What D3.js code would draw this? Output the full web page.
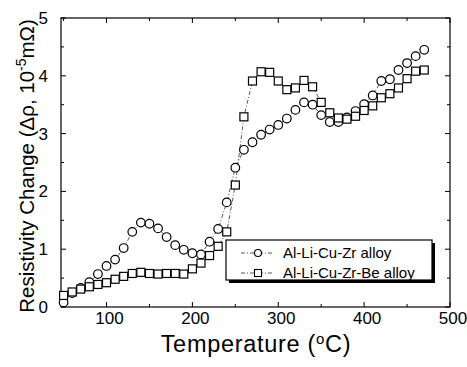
<!DOCTYPE html>
<html><head><meta charset="utf-8">
<script src="https://cdn.jsdelivr.net/npm/d3@7"></script>
<style>body{margin:0;background:#fff}svg{display:block}text{font-family:"Liberation Sans",Arial,sans-serif;fill:#000}</style>
</head><body><svg id="c" width="467" height="367"></svg>
<script>
const temps = [50,60,70,80,90,100,110,120,130,140,150,160,170,180,190,200,210,220,230,240,250,260,270,280,290,300,310,320,330,340,350,360,370,380,390,400,410,420,430,440,450,460,470];
const zrAlloy = [0.08,0.24,0.33,0.43,0.57,0.71,0.82,1.02,1.30,1.46,1.44,1.36,1.21,1.07,0.99,0.93,0.91,1.13,1.35,1.81,2.41,2.72,2.85,2.98,3.07,3.15,3.26,3.41,3.54,3.50,3.32,3.20,3.20,3.28,3.39,3.51,3.66,3.91,3.94,4.10,4.22,4.34,4.45];
const beAlloy = [0.20,0.26,0.31,0.35,0.39,0.42,0.48,0.53,0.58,0.60,0.58,0.57,0.58,0.58,0.57,0.66,0.76,0.89,1.05,1.30,2.11,3.29,3.91,4.07,4.06,3.91,3.76,3.79,3.92,3.81,3.54,3.36,3.27,3.25,3.30,3.40,3.48,3.62,3.69,3.79,3.95,4.08,4.10];
const seriesNames = ["Al-Li-Cu-Zr alloy","Al-Li-Cu-Zr-Be alloy"];
const xTicks = [100,200,300,400,500];
const yTicks = [0,1,2,3,4,5];

const svg = d3.select("#c");
const L=61,R=450,T=18,B=307;
const x = d3.scaleLinear().domain([47,500]).range([L,R]);
const y = d3.scaleLinear().domain([0,5]).range([B,T]);

// frame
svg.append("rect").attr("x",L).attr("y",T).attr("width",R-L).attr("height",B-T)
  .attr("fill","none").attr("stroke","#000").attr("stroke-width",1.2);

// ticks inward
const xMinor = d3.range(50,500,50);
const yMinor = d3.range(0.5,5,1);
const tk = svg.append("g").attr("stroke","#000").attr("stroke-width",1);
xTicks.forEach(v=>{ tk.append("line").attr("x1",x(v)).attr("x2",x(v)).attr("y1",B).attr("y2",B-5);
  tk.append("line").attr("x1",x(v)).attr("x2",x(v)).attr("y1",T).attr("y2",T+5);});
xMinor.filter(v=>v%100).forEach(v=>{ tk.append("line").attr("x1",x(v)).attr("x2",x(v)).attr("y1",B).attr("y2",B-3);
  tk.append("line").attr("x1",x(v)).attr("x2",x(v)).attr("y1",T).attr("y2",T+3);});
yTicks.forEach(v=>{ tk.append("line").attr("x1",L).attr("x2",L+5).attr("y1",y(v)).attr("y2",y(v));
  tk.append("line").attr("x1",R).attr("x2",R-5).attr("y1",y(v)).attr("y2",y(v));});
yMinor.forEach(v=>{ tk.append("line").attr("x1",L).attr("x2",L+3).attr("y1",y(v)).attr("y2",y(v));
  tk.append("line").attr("x1",R).attr("x2",R-3).attr("y1",y(v)).attr("y2",y(v));});

// tick labels
svg.append("g").selectAll("text").data(xTicks).join("text")
  .attr("x",d=>x(d)+3).attr("y",324).attr("text-anchor","middle").attr("font-size",17).text(d=>d);
svg.append("g").selectAll("text").data(yTicks).join("text")
  .attr("x",48).attr("y",d=>y(d)+6).attr("text-anchor","end").attr("font-size",17).text(d=>d);

// axis titles
const xt = svg.append("text").attr("x",256).attr("y",352).attr("text-anchor","middle").attr("font-size",23.5).attr("letter-spacing",0.7);
xt.append("tspan").text("Temperature (");
xt.append("tspan").attr("font-size",15).attr("dy",-8).text("o");
xt.append("tspan").attr("dy",8).text("C)");
const yt = svg.append("text").attr("transform","translate(34,166) rotate(-90)").attr("text-anchor","middle").attr("font-size",20.5);
yt.append("tspan").text("Resistivity Change (\u0394\u03c1, 10");
yt.append("tspan").attr("font-size",14).attr("dy",-8).text("-5");
yt.append("tspan").attr("dy",8).text("m\u03a9)");

// lines and markers
const line = d3.line().x((d,i)=>x(temps[i])).y(d=>y(d));
[zrAlloy,beAlloy].forEach(s=>{
  svg.append("path").attr("d",line(s)).attr("fill","none").attr("stroke","#444")
    .attr("stroke-width",0.9).attr("stroke-dasharray","4,2,1,2");
});
svg.append("g").selectAll("circle").data(zrAlloy).join("circle")
  .attr("cx",(d,i)=>x(temps[i])).attr("cy",d=>y(d)).attr("r",4.3)
  .attr("fill","#fff").attr("stroke","#000").attr("stroke-width",1.2);
svg.append("g").selectAll("rect").data(beAlloy).join("rect")
  .attr("x",(d,i)=>x(temps[i])-4).attr("y",d=>y(d)-4).attr("width",8).attr("height",8)
  .attr("fill","#fff").attr("stroke","#000").attr("stroke-width",1.2);

// legend
const lg = svg.append("g");
lg.append("rect").attr("x",229).attr("y",243).attr("width",206).attr("height",40).attr("fill","#000");
lg.append("rect").attr("x",226).attr("y",240).attr("width",206).attr("height",40).attr("fill","#fff").attr("stroke","#000").attr("stroke-width",1.2);
seriesNames.forEach((n,i)=>{
  const yy = 253 + i*20;
  lg.append("line").attr("x1",241).attr("x2",274).attr("y1",yy).attr("y2",yy).attr("stroke","#444").attr("stroke-width",0.9).attr("stroke-dasharray","4,2,1,2");
  if(i===0) lg.append("circle").attr("cx",258).attr("cy",yy).attr("r",3.5).attr("fill","#fff").attr("stroke","#000").attr("stroke-width",1.1);
  else lg.append("rect").attr("x",254.5).attr("y",yy-3.5).attr("width",7).attr("height",7).attr("fill","#fff").attr("stroke","#000").attr("stroke-width",1.1);
  lg.append("text").attr("x",283).attr("y",yy+5).attr("font-size",15).text(n);
});
</script></body></html>
